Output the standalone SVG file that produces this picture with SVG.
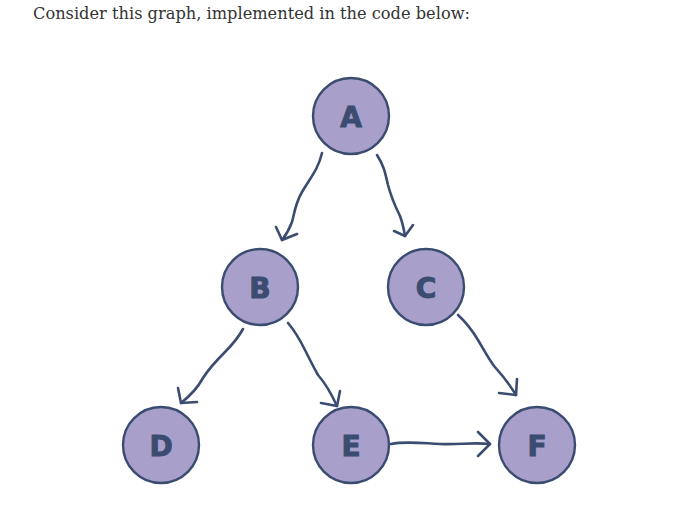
<svg xmlns="http://www.w3.org/2000/svg" width="691" height="511" viewBox="0 0 691 511">
<style>
.node circle{fill:#a89fca;stroke:#3b4c71;stroke-width:2.4}
.node text{font-family:"DejaVu Sans",sans-serif;font-weight:bold;font-size:28px;fill:#3b4c71;stroke:#3b4c71;stroke-width:1;text-anchor:middle}
.edge path{fill:none;stroke:#3b4c71;stroke-width:2.6;stroke-linecap:round;stroke-linejoin:round}
.title{font-family:"DejaVu Serif","Liberation Serif",serif;font-size:16.5px;fill:#333}
</style>
<rect width="691" height="511" fill="#fff"/>
<text class="title" x="33" y="19" textLength="437" lengthAdjust="spacingAndGlyphs">Consider this graph, implemented in the code below:</text>
<g id="connectors" class="edge">
<path d="M322,153 C318,170 310,178 302,192 C295,204 294,215 292,222 C289,230 286,235 282,240"/>
<path d="M276,227 L282,240 L297,234"/>
<path d="M377,155 C384,166 385,172 388,185 C392,200 396,208 400,216 C403,224 404,230 405,236"/>
<path d="M394,231 L405,236 L413,225"/>
<path d="M243,329 C238,338 233,344 225,352 C215,362 208,370 203,378 C198,387 190,396 181,403"/>
<path d="M178,388 L181,403 L197,402"/>
<path d="M288,323 C295,331 300,340 305,350 C310,360 314,368 318,375 C326,384 331,393 337,406"/>
<path d="M321,403 L337,406 L340,391"/>
<path d="M458,315 C468,324 472,330 478,340 C484,350 488,358 494,366 C503,376 510,385 516,395"/>
<path d="M499,393 L516,395 L517,379"/>
<path d="M391,444 C405,441 420,443 440,444 C460,445 470,442 490,444"/>
<path d="M478,432 L490,444 L478,456"/>
</g>
<g id="node-A" class="node"><circle cx="351" cy="116" r="38"/><text x="351" y="127">A</text></g>
<g id="node-B" class="node"><circle cx="260" cy="287" r="38"/><text x="260" y="298">B</text></g>
<g id="node-C" class="node"><circle cx="426" cy="287" r="38"/><text x="426" y="298">C</text></g>
<g id="node-D" class="node"><circle cx="161" cy="445" r="38"/><text x="161" y="456">D</text></g>
<g id="node-E" class="node"><circle cx="351" cy="445" r="38"/><text x="351" y="456">E</text></g>
<g id="node-F" class="node"><circle cx="537" cy="445" r="38"/><text x="537" y="456">F</text></g>
</svg>
